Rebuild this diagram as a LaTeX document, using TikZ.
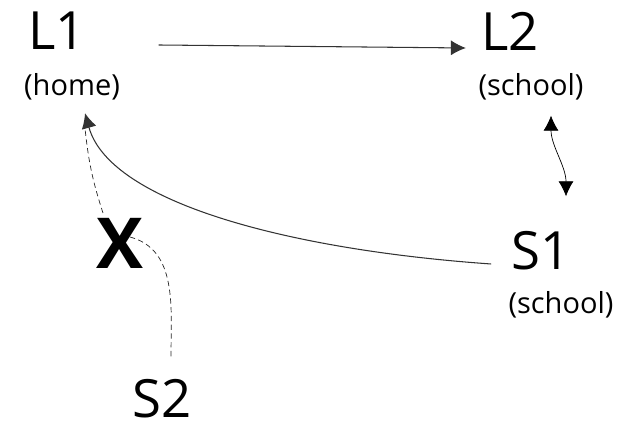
\documentclass[tikz,border=0pt]{standalone}
\usepackage{fontspec}
\setmainfont{Open Sans}
\usetikzlibrary{arrows.meta,positioning}

\begin{document}
\begin{tikzpicture}[
  >={Latex[length=0.3cm,width=0.3cm]},
  big/.style={font=\fontsize{30}{32}\selectfont,inner sep=0pt},
  sub/.style={font=\fontsize{16.5}{18}\selectfont,inner sep=0pt},
  cross/.style={font=\fontsize{40}{44}\selectfont\bfseries,inner sep=0pt},
  link/.style={->,semithick,black!80},
  wavy/.style={<->,thin,black},
  blocked/.style={dash pattern=on 3pt off 2pt,thin,black!85}
]
  \useasboundingbox (0,0) rectangle (12.82,8.58);

  \node[big] (L1) at (1.14,7.96) {L1};
  \node[sub] (home) at (1.44,6.84) {(home)};
  \node[big] (L2) at (10.2,7.96) {L2};
  \node[sub] (school2) at (10.62,6.84) {(school)};
  \node[big] (S1) at (10.82,3.56) {S1};
  \node[sub] (school1) at (11.22,2.48) {(school)};
  \node[cross] (X) at (2.4,3.72) {X};
  \node[big] (S2) at (3.24,0.6) {S2};

  \draw[link] ([xshift=1.45cm,yshift=-0.28cm]L1.east) -- ([xshift=-0.3cm,yshift=-0.34cm]L2.west);
  \draw[wavy] ([xshift=0.4cm,yshift=-0.3cm]school2.south) .. controls +(0,-0.6) and +(0,0.6) .. ([xshift=0.5cm,yshift=0.7cm]S1.north);
  \draw[link] ([xshift=-0.4cm,yshift=-0.26cm]S1.west) .. controls +(-4,0.28) and +(0.5,-1.8) .. ([xshift=0.26cm,yshift=-0.25cm]home.south);
  \draw[blocked] ([shift={(-0.34,0.6)}]X.center) to[bend left=6] ([xshift=0.26cm,yshift=-0.55cm]home.south);
  \draw[blocked] ([shift={(0.2,0.12)}]X.center) to[out=-15,in=90] ([xshift=0.18cm,yshift=0.45cm]S2.north);
\end{tikzpicture}
\end{document}
